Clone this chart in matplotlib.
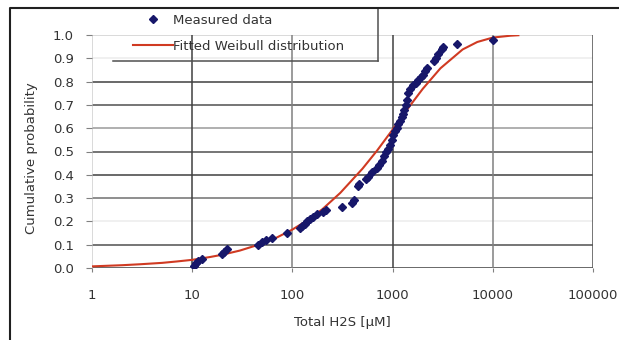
import matplotlib
matplotlib.use("Agg")
import matplotlib.pyplot as plt
from matplotlib.lines import Line2D

measured_x = [10.5, 11, 11.5, 12.5, 20, 21, 22, 45, 50, 55, 62, 88, 118, 125, 133,
              140, 150, 162, 175, 200, 215, 310, 390, 410, 450, 460, 540, 570, 620,
              700, 740, 790, 830, 860, 900, 940, 980, 1020, 1060, 1100, 1140, 1180,
              1230, 1270, 1310, 1350, 1390, 1430, 1500, 1600, 1700, 1800, 1900, 2000,
              2100, 2200, 2600, 2700, 2850, 3100, 3200, 4400, 10100]
measured_y = [0.01, 0.02, 0.03, 0.04, 0.06, 0.07, 0.08, 0.10, 0.11, 0.12, 0.13, 0.15,
              0.17, 0.18, 0.19, 0.20, 0.21, 0.22, 0.23, 0.24, 0.25, 0.26, 0.28, 0.29,
              0.35, 0.36, 0.38, 0.39, 0.41, 0.43, 0.44, 0.46, 0.48, 0.50, 0.51, 0.53,
              0.55, 0.57, 0.59, 0.60, 0.62, 0.63, 0.65, 0.66, 0.68, 0.70, 0.72, 0.75,
              0.77, 0.785, 0.795, 0.805, 0.82, 0.83, 0.845, 0.86, 0.89, 0.90, 0.92,
              0.94, 0.95, 0.96, 0.98]

# fitted Weibull curve
fit_x = [1, 2, 3, 5, 7, 10, 15, 20, 30, 50, 70, 100, 150, 200, 300, 500, 700, 1000,
         1500, 2000, 3000, 5000, 7000, 10000, 15000, 18000]
fit_y = [0.007, 0.012, 0.016, 0.022, 0.028, 0.035, 0.047, 0.057, 0.075, 0.105, 0.131,
         0.165, 0.212, 0.253, 0.322, 0.426, 0.504, 0.594, 0.698, 0.769, 0.857, 0.938,
         0.970, 0.989, 0.997, 0.999]

y_ticks = [0.0, 0.1, 0.2, 0.3, 0.4, 0.5, 0.6, 0.7, 0.8, 0.9, 1.0]
x_ticks = [1, 10, 100, 1000, 10000, 100000]
x_labels = ["1", "10", "100", "1000", "10000", "100000"]

hgrid_colors = ['#404040', '#505050', '#ececec', '#707070', '#404040', '#505050',
                '#9a9a9a', '#505050', '#404040', '#ececec', '#d0d0d0']
vgrid_colors = ['#d0d0d0', '#404040', '#808080', '#404040', '#808080', '#505050']

txt = '#333333'

fig = plt.figure(figsize=(6.19, 3.40), dpi=100)
ax = fig.add_axes([92 / 619, 1 - 268 / 340, 501 / 619, 233 / 340])

for y, c in zip(y_ticks, hgrid_colors):
    ax.axhline(y, color=c, lw=1.1, zorder=1)
for x, c in zip(x_ticks, vgrid_colors):
    ax.axvline(x, color=c, lw=1.1, zorder=1)

ax.plot(fit_x, fit_y, color='#d03a22', lw=1.5, zorder=2, label="Fitted Weibull distribution")
ax.plot(measured_x, measured_y, ls='none', marker='D', ms=4.3, color='#17176a',
        zorder=3, label="Measured data")

ax.set_xscale('log')
ax.set_xlim(1, 100000)
ax.set_ylim(0, 1.0)
ax.set_xticks(x_ticks)
ax.set_xticklabels(x_labels)
ax.minorticks_off()
ax.set_yticks(y_ticks)
ax.set_yticklabels(["%.1f" % v for v in y_ticks])
ax.tick_params(axis='y', length=4, color='#808080', pad=9, labelsize=9.5, labelcolor=txt)
ax.tick_params(axis='x', length=3, color='#808080', pad=12, labelsize=9.5, labelcolor=txt)
for s in ax.spines.values():
    s.set_visible(False)

ax.set_xlabel("Total H2S [µM]", fontsize=9.5, color=txt)
ax.xaxis.set_label_coords(0.5, -0.205)
ax.set_ylabel("Cumulative probability", fontsize=9.5, color=txt)
ax.yaxis.set_label_coords(-0.108, 0.47)

# legend
h_meas = Line2D([], [], ls='none', marker='D', ms=4.3, color='#17176a')
h_fit = Line2D([], [], color='#d03a22', lw=1.5)
fig.legend([h_meas, h_fit], ["Measured data", "Fitted Weibull distribution"],
           loc='upper left', bbox_to_anchor=(133 / 619, 1 - 14 / 340),
           bbox_transform=fig.transFigure, frameon=False, fontsize=9.5,
           borderpad=0, borderaxespad=0, handlelength=3.0, handletextpad=0.05,
           labelspacing=0.95, labelcolor=txt)

# legend box edges and outer chart frame
fig.add_artist(Line2D([113 / 619, 378 / 619], [1 - 61 / 340, 1 - 61 / 340],
                      color='#505050', lw=1.1, transform=fig.transFigure))
fig.add_artist(Line2D([378 / 619, 378 / 619], [1 - 8 / 340, 1 - 61 / 340],
                      color='#505050', lw=1.1, transform=fig.transFigure))
fig.add_artist(Line2D([10 / 619, 10 / 619, 1.0], [0.0, 1 - 8 / 340, 1 - 8 / 340],
                      color='#202020', lw=1.5, transform=fig.transFigure))

fig.savefig("out.png", dpi=100)
